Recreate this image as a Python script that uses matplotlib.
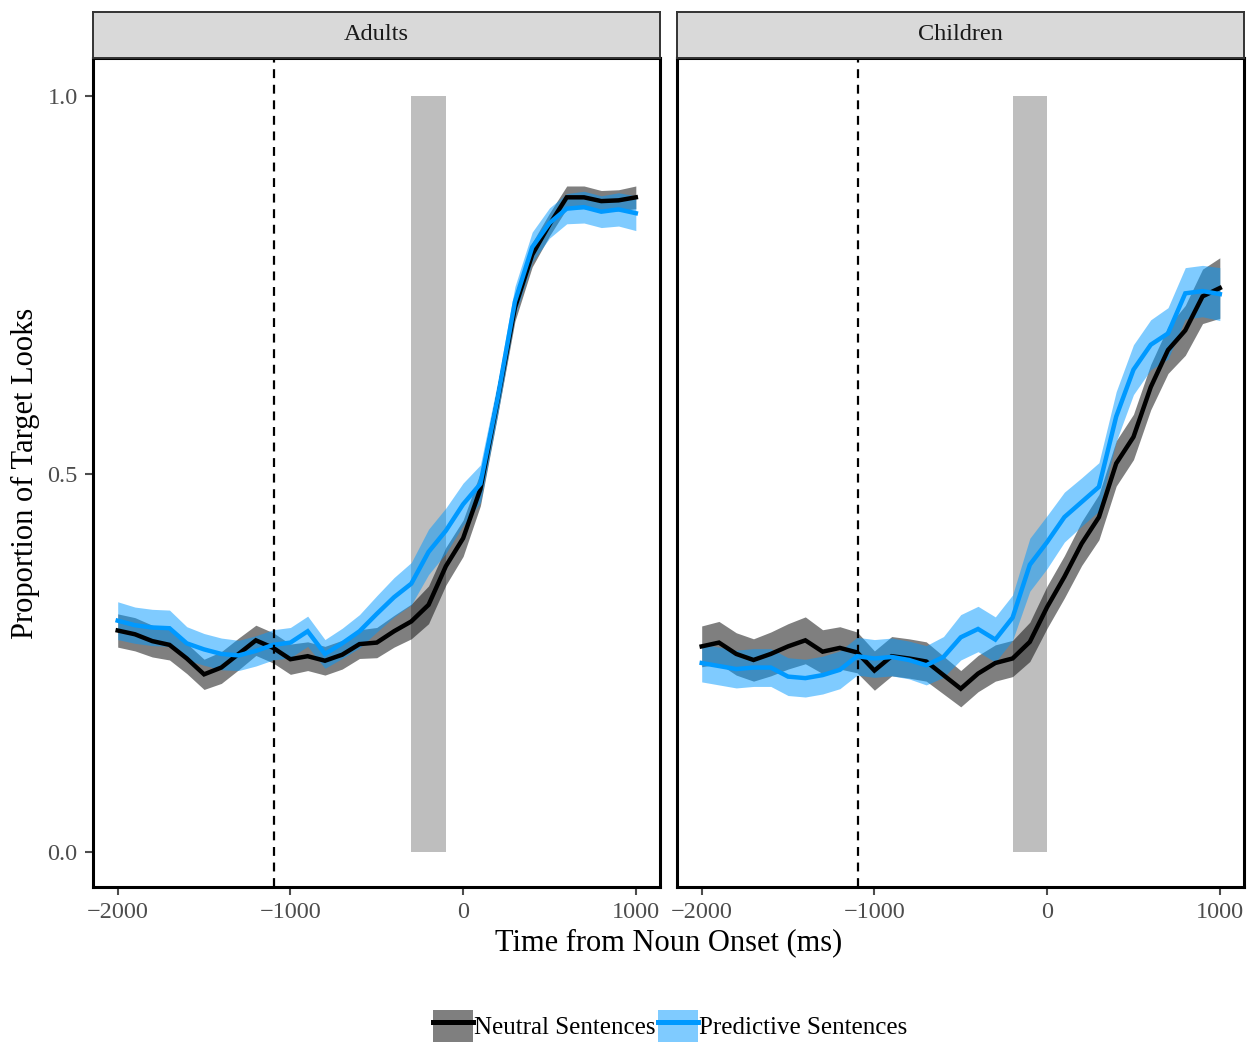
import matplotlib
matplotlib.use("Agg")
import matplotlib.pyplot as plt
from matplotlib.patches import Patch
from matplotlib.lines import Line2D
import numpy as np

plt.rcParams['font.family'] = ['Liberation Serif', 'DejaVu Serif']

time = list(range(-2000, 1001, 100))

adults_neutral = [0.293, 0.288, 0.279, 0.274, 0.256, 0.235, 0.244, 0.262, 0.280, 0.270,
                  0.255, 0.259, 0.253, 0.261, 0.275, 0.277, 0.292, 0.305, 0.327, 0.378,
                  0.415, 0.480, 0.598, 0.720, 0.790, 0.830, 0.866, 0.866, 0.861, 0.862, 0.866]
adults_neutral_se = [0.022, 0.022, 0.021, 0.020, 0.020, 0.020, 0.021, 0.021, 0.020, 0.020,
                     0.020, 0.019, 0.019, 0.019, 0.019, 0.020, 0.021, 0.023, 0.025, 0.025,
                     0.024, 0.022, 0.020, 0.018, 0.016, 0.015, 0.015, 0.015, 0.014, 0.014, 0.015]
adults_predictive = [0.306, 0.300, 0.297, 0.296, 0.276, 0.268, 0.262, 0.260, 0.266, 0.274,
                     0.277, 0.292, 0.262, 0.276, 0.292, 0.315, 0.337, 0.355, 0.397, 0.425,
                     0.460, 0.487, 0.600, 0.728, 0.800, 0.832, 0.851, 0.853, 0.847, 0.850, 0.845]
adults_predictive_se = [0.025, 0.024, 0.024, 0.024, 0.022, 0.021, 0.021, 0.020, 0.020, 0.020,
                        0.020, 0.020, 0.019, 0.020, 0.022, 0.024, 0.026, 0.028, 0.030, 0.030,
                        0.028, 0.025, 0.022, 0.020, 0.020, 0.020, 0.020, 0.021, 0.021, 0.022, 0.023]

children_neutral = [0.272, 0.277, 0.262, 0.254, 0.262, 0.272, 0.280, 0.265, 0.270, 0.264,
                    0.240, 0.259, 0.256, 0.252, 0.234, 0.216, 0.236, 0.250, 0.256, 0.278,
                    0.324, 0.364, 0.408, 0.443, 0.514, 0.549, 0.615, 0.664, 0.690, 0.735, 0.746]
children_neutral_se = [0.027, 0.028, 0.028, 0.028, 0.029, 0.030, 0.031, 0.029, 0.028, 0.027,
                       0.026, 0.026, 0.026, 0.026, 0.025, 0.024, 0.024, 0.024, 0.024, 0.026,
                       0.028, 0.028, 0.029, 0.030, 0.030, 0.030, 0.030, 0.031, 0.033, 0.036, 0.040]
children_predictive = [0.250, 0.246, 0.242, 0.244, 0.244, 0.232, 0.230, 0.234, 0.241, 0.259,
                       0.256, 0.258, 0.254, 0.247, 0.258, 0.284, 0.295, 0.281, 0.310, 0.380,
                       0.410, 0.443, 0.463, 0.483, 0.576, 0.638, 0.671, 0.686, 0.739, 0.742, 0.738]
children_predictive_se = [0.025, 0.025, 0.025, 0.025, 0.025, 0.025, 0.025, 0.025, 0.025, 0.025,
                          0.025, 0.025, 0.025, 0.026, 0.027, 0.030, 0.030, 0.030, 0.030, 0.035,
                          0.035, 0.033, 0.032, 0.032, 0.033, 0.033, 0.033, 0.034, 0.034, 0.034, 0.035]

panels = ["Adults", "Children"]
window = {"Adults": (-300, -100), "Children": (-200, 0)}
cue_time = -1095

series = {
    "Adults": [(adults_neutral, adults_neutral_se), (adults_predictive, adults_predictive_se)],
    "Children": [(children_neutral, children_neutral_se), (children_predictive, children_predictive_se)],
}
line_colors = ["#000000", "#0099FF"]
labels = ["Neutral Sentences", "Predictive Sentences"]

fig = plt.figure(figsize=(12.55, 10.44), dpi=100)
lefts = [93 / 1255, 677 / 1255]
width = 567 / 1255
bottom = 1 - 887 / 1044
height = 829 / 1044
strip_h = 46 / 1044
y_lo, y_hi = -0.0463, 1.0503

t = np.array(time)
for i, name in enumerate(panels):
    ax = fig.add_axes([lefts[i], bottom, width, height])
    ax.axvspan(window[name][0], window[name][1],
               ymin=(0 - y_lo) / (y_hi - y_lo), ymax=(1 - y_lo) / (y_hi - y_lo),
               color="#BEBEBE", lw=0, zorder=1)
    for (mean, se), c in zip(series[name], line_colors):
        m = np.array(mean)
        s = np.array(se)
        ax.fill_between(t, m - s, m + s, color=c, alpha=0.5, lw=0, zorder=2)
    for (mean, se), c in zip(series[name], line_colors):
        ax.plot(t, mean, color=c, lw=3.2, zorder=3, solid_joinstyle='miter')
    ax.axvline(cue_time, color="black", lw=1.6, ls=(0, (4, 3)), zorder=4)
    ax.set_xlim(-2143, 1140)
    ax.set_ylim(y_lo, y_hi)
    ax.set_xticks([-2000, -1000, 0, 1000])
    ax.set_yticks([0.0, 0.5, 1.0])
    ax.set_yticklabels(["0.0", "0.5", "1.0"])
    ax.tick_params(colors="#4D4D4D", labelsize=17.5, length=6, width=1.5, pad=5,
                   labelcolor="#4D4D4D")
    if i == 1:
        ax.tick_params(axis='y', left=False, labelleft=False)
    for sp in ax.spines.values():
        sp.set_linewidth(2.2)
        sp.set_color("black")

    strip = fig.add_axes([lefts[i], bottom + height, width, strip_h])
    strip.set_facecolor("#D9D9D9")
    strip.set_xticks([])
    strip.set_yticks([])
    for sp in strip.spines.values():
        sp.set_linewidth(1.4)
        sp.set_color("#333333")
    strip.text(0.5, 0.5, name, ha="center", va="center", fontsize=17.5, color="#1A1A1A",
               transform=strip.transAxes)

fig.text(25 / 1255, 1 - 473 / 1044, "Proportion of Target Looks", rotation=90,
         ha="center", va="center", fontsize=22)
fig.text(669 / 1255, 1 - 943 / 1044, "Time from Noun Onset (ms)", ha="center", va="center",
         fontsize=22)

handles = []
for c in line_colors:
    handles.append((Patch(facecolor=c, alpha=0.5, lw=0), Line2D([], [], color=c, lw=3.6)))
fig.legend(handles, labels, loc="center", bbox_to_anchor=(670 / 1255, 1 - 1026 / 1044),
           ncol=2, frameon=False, fontsize=18, handlelength=1.6, handleheight=1.6,
           handletextpad=0.05, columnspacing=0.1, borderpad=0)

fig.savefig("out.png", dpi=100)
